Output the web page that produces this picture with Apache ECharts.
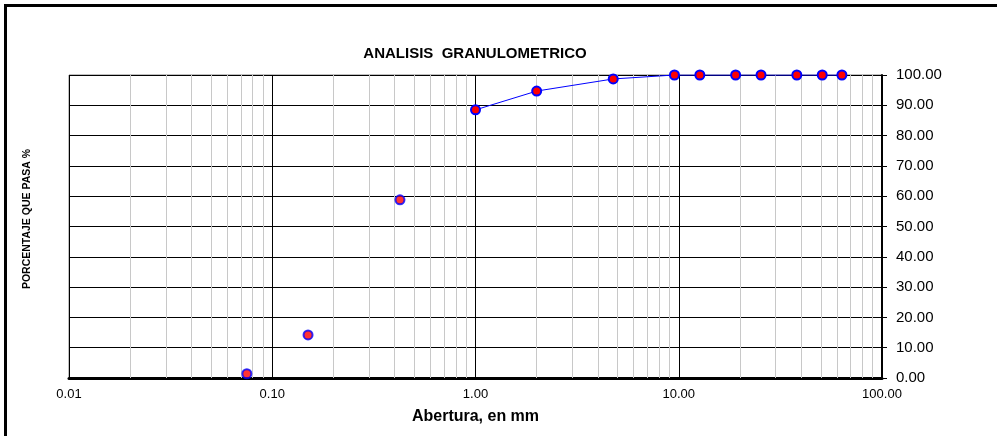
<!DOCTYPE html>
<html><head><meta charset="utf-8">
<script src="https://cdn.jsdelivr.net/npm/echarts@6/dist/echarts.min.js"></script>
<style>html,body{margin:0;padding:0;background:#fff}#c{width:997px;height:436px}</style>
</head><body><div id="c"></div>
<script>
// Sieve openings (mm) and percent passing
var aberturas = [63.5, 50.8, 38.1, 25.4, 19.05, 12.7, 9.525, 4.76, 2.00, 1.00, 0.425, 0.15, 0.075];
var pasa      = [100, 100, 100, 100, 100, 100, 100, 98.7, 94.7, 88.5, 58.8, 14.2, 1.4];
var nConectados = 10; // points joined by the curve (from 1.00 mm upward)
var xTickLabels = ['0.01', '0.10', '1.00', '10.00', '100.00'];
var minorGrid = [0.02,0.03,0.04,0.05,0.06,0.07,0.08,0.09,0.2,0.3,0.4,0.5,0.6,0.7,0.8,0.9,2,3,4,5,6,7,8,9,20,30,40,50,60,70,80,90];

var FONT = 'Arial, "Liberation Sans", sans-serif';
var pts = aberturas.map(function(x,i){return [x, pasa[i]];});
var lineData = pts.slice(0, nConectados);
var looseData = pts.slice(nConectados);
var sym = {color:'#ff0000', borderColor:'#0000ff', borderWidth:2};

var chart = echarts.init(document.getElementById('c'), null, {renderer:'canvas'});
chart.setOption({
  animation:false,
  backgroundColor:'#fff',
  title:{text:'ANALISIS  GRANULOMETRICO', left:470, top:41, textAlign:'center',
    textStyle:{fontFamily:FONT, fontSize:15, fontWeight:'bold', color:'#000'}},
  grid:{left:69, right:115, top:75, bottom:58, show:true, borderColor:'#808080', borderWidth:1},
  xAxis:{type:'log', logBase:10, min:0.01, max:100,
    name:'Abertura, en mm', nameLocation:'middle', nameGap:31,
    nameTextStyle:{fontFamily:FONT, fontSize:16, fontWeight:'bold', color:'#000'},
    axisLine:{show:true, lineStyle:{color:'#000', width:3}},
    axisTick:{show:false},
    axisLabel:{fontFamily:FONT, fontSize:13, color:'#000', margin:10,
      formatter:function(v){var e=Math.round(Math.log10(v)); return xTickLabels[e+2];}},
    splitLine:{show:true, lineStyle:{color:'#000', width:1}},
    minorTick:{show:false}, minorSplitLine:{show:false}},
  yAxis:{type:'value', position:'right', min:0, max:100, interval:10,
    axisLine:{show:true, lineStyle:{color:'#000', width:2}},
    axisTick:{show:true, inside:false, length:5, lineStyle:{color:'#000'}},
    axisLabel:{fontFamily:FONT, fontSize:15, color:'#000', margin:14,
      formatter:function(v){return v.toFixed(2);}},
    splitLine:{show:true, lineStyle:{color:'#000', width:1}}},
  graphic:[
    {type:'rect', shape:{x:5.5, y:5.5, width:1000, height:1000}, style:{fill:'none', stroke:'#000', lineWidth:3}, z:100},
    {type:'text', x:27, y:219, rotation:Math.PI/2,
      style:{text:'PORCENTAJE QUE PASA %', fontFamily:FONT, fontSize:10.5, fontWeight:'bold', fill:'#000', textAlign:'center', textVerticalAlign:'middle'}}
  ],
  series:[
    {type:'line', data:[], z:1, silent:true,
      markLine:{silent:true, symbol:['none','none'], label:{show:false}, animation:false,
        lineStyle:{color:'#c8c8c8', width:1, type:'solid'},
        data:minorGrid.map(function(v){return {xAxis:v};})}},
    {type:'line', data:lineData, symbol:'circle', symbolSize:9, z:5,
      lineStyle:{color:'#0000ff', width:1}, itemStyle:sym},
    {type:'scatter', data:looseData, symbol:'circle', symbolSize:9, z:5, itemStyle:sym}
  ]
});
</script></body></html>
